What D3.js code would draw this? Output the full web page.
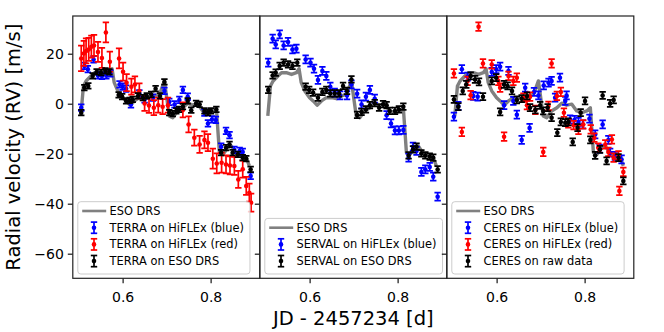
<!DOCTYPE html>
<html>
<head>
<meta charset="utf-8">
<script src="https://cdn.jsdelivr.net/npm/d3@7"></script>
<style>
  body { margin: 0; background: #fff; }
  text { font-family: "DejaVu Sans", sans-serif; }
</style>
</head>
<body>
<div id="chart"></div>
<script>
// ticks
var xTicks = [0.6, 0.8];
var yTicks = [20, 0, -20, -40, -60];

// ESO DRS reference curve (same in all panels)
var esoT  = [0.505, 0.511, 0.517, 0.528, 0.536, 0.547, 0.559, 0.570, 0.576, 0.581, 0.589, 0.600, 0.608, 0.617, 0.627, 0.638, 0.650, 0.661, 0.672, 0.684,
             0.695, 0.706, 0.714, 0.725, 0.737, 0.748, 0.759, 0.771, 0.782, 0.794, 0.805, 0.813, 0.820, 0.828, 0.839, 0.847, 0.858, 0.869, 0.881, 0.888];
var esoRV = [-4.9, 7.1, 9.1, 11.1, 12.4, 12.4, 11.7, 12.4, 14.0, 8.4, 5.1, 2.4, 1.1, -0.6, 1.1, 2.4, 2.4, 2.0, 3.1, 3.7,
             9.1, -4.9, -5.6, -2.9, -1.6, 0.2, -0.6, -0.2, -2.9, -3.6, -2.9, -1.6, -19.6, -20.3, -17.6, -16.9, -19.9, -20.7, -21.6, -24.9];

// panel 1: TERRA
var terraBlueT  = [0.506, 0.513, 0.521, 0.534, 0.544, 0.553, 0.563, 0.572, 0.593, 0.600, 0.608, 0.619, 0.638, 0.650, 0.669, 0.695, 0.706, 0.718,
                   0.729, 0.737, 0.748, 0.786, 0.794, 0.803, 0.812, 0.824, 0.835, 0.843, 0.854, 0.866, 0.873, 0.891];
var terraBlueRV = [-1.6, 15.1, 13.8, 17.7, 11.3, 11.1, 11.3, 12.1, 7.7, 6.8, 6.0, -0.3, 4.1, 1.7, 2.4, 5.1, 0.7, -0.3,
                   1.5, 5.5, 2.8, -3.6, -7.9, -6.3, -6.5, -17.2, -10.9, -12.6, -18.5, -18.9, -19.3, -28.9];
var terraBlueErr = 1.3;

var terraRedT  = [0.506, 0.512, 0.517, 0.523, 0.529, 0.535, 0.544, 0.553, 0.562, 0.571, 0.592, 0.601, 0.609, 0.620, 0.628, 0.638, 0.650, 0.660,
                  0.671, 0.681, 0.691, 0.703, 0.737, 0.750, 0.763, 0.775, 0.786, 0.794, 0.805, 0.814, 0.825, 0.835, 0.844, 0.854, 0.863, 0.873,
                  0.881, 0.888, 0.892];
var terraRedRV = [18.1, 20.1, 21.1, 21.7, 22.8, 23.3, 20.7, 18.3, 28.5, 16.8, 18.1, 12.8, 8.4, 6.8, 7.7, 5.1, 0.1, -0.7,
                  -1.6, -0.6, -1.2, -0.6, -2.5, -8.3, -13.6, -16.3, -14.5, -15.6, -22.0, -23.9, -23.6, -24.3, -24.7, -24.9, -30.3, -26.2,
                  -32.9, -35.6, -39.6];
var terraRedErr = [5.1, 5.0, 5.0, 4.6, 4.4, 4.2, 4.0, 4.0, 4.0, 4.0, 4.0, 3.6, 3.4, 3.2, 3.2, 3.0, 3.0, 3.0,
                   3.0, 3.0, 3.0, 3.0, 3.0, 3.2, 3.2, 3.4, 3.4, 3.4, 4.0, 4.0, 4.0, 3.6, 3.6, 3.6, 3.4, 3.4,
                   3.6, 3.6, 3.6];

var terraBlackT  = [0.506, 0.513, 0.522, 0.532, 0.541, 0.551, 0.561, 0.570, 0.591, 0.599, 0.608, 0.616, 0.623, 0.635, 0.646, 0.655, 0.665, 0.675,
                    0.685, 0.695, 0.706, 0.714, 0.722, 0.728, 0.737, 0.748, 0.756, 0.767, 0.775, 0.786, 0.794, 0.801, 0.813, 0.824, 0.835, 0.843,
                    0.850, 0.862, 0.873, 0.881, 0.891];
var terraBlackRV = [-3.6, 6.4, 7.1, 11.1, 12.7, 12.4, 13.1, 12.7, 3.5, 2.8, 1.1, 1.3, 1.7, 3.1, 2.4, 3.1, 3.7, 6.0,
                    3.1, 8.7, -3.6, -4.0, -2.9, -2.3, -1.2, 1.1, -2.6, 0.1, -0.3, -2.9, -3.6, -2.9, -2.3, -19.6, -17.6, -16.3,
                    -19.6, -20.3, -21.6, -22.0, -26.3];
var terraBlackErr = 1.1;

// panel 2: SERVAL
var servalBlueT  = [0.506, 0.516, 0.523, 0.532, 0.541, 0.551, 0.561, 0.570, 0.591, 0.602, 0.610, 0.619, 0.629, 0.638, 0.647, 0.657, 0.669, 0.685,
                    0.695, 0.708, 0.718, 0.728, 0.737, 0.748, 0.775, 0.785, 0.794, 0.803, 0.813, 0.825, 0.835, 0.843, 0.854, 0.863, 0.873, 0.881,
                    0.891];
var servalBlueRV = [16.4, 26.0, 23.7, 27.7, 23.3, 24.7, 21.7, 22.0, 17.7, 16.4, 14.0, 9.5, 13.1, 11.1, 6.8, 4.4, 3.3, 3.3,
                    7.7, 4.0, -0.3, 2.8, 5.5, 2.0, -4.6, -7.9, -10.7, -10.7, -10.5, -21.6, -17.2, -18.9, -27.3, -26.3, -25.3, -29.2,
                    -37.2];
var servalBlueErr = 1.6;

var servalBlackT  = [0.506, 0.516, 0.523, 0.532, 0.541, 0.551, 0.561, 0.572, 0.591, 0.599, 0.608, 0.619, 0.629, 0.638, 0.647, 0.657, 0.667, 0.676,
                     0.685, 0.695, 0.708, 0.718, 0.728, 0.737, 0.748, 0.758, 0.767, 0.775, 0.782, 0.794, 0.803, 0.813, 0.825, 0.835, 0.843, 0.854,
                     0.863, 0.873, 0.881, 0.891];
var servalBlackRV = [5.5, 11.3, 12.4, 15.1, 16.4, 15.7, 15.1, 16.4, 6.8, 5.5, 4.4, 2.4, 4.7, 5.5, 4.1, 4.1, 4.1, 7.1,
                     5.1, 9.7, -4.5, -3.3, -2.3, -0.6, 0.2, -1.6, -0.2, -0.6, -2.9, -2.9, -2.3, -1.2, -20.7, -18.3, -17.2, -19.9,
                     -20.7, -21.2, -21.6, -26.3];
var servalBlackErr = 1.3;

// panel 3: CERES
var ceresBlueT  = [0.503, 0.513, 0.521, 0.534, 0.547, 0.557, 0.589, 0.599, 0.608, 0.617, 0.627, 0.638, 0.646, 0.657, 0.665, 0.675, 0.685, 0.695,
                   0.707, 0.718, 0.725, 0.733, 0.744, 0.756, 0.759, 0.767, 0.777, 0.786, 0.796, 0.811, 0.824, 0.834, 0.841, 0.854, 0.858, 0.869,
                   0.884];
var ceresBlueRV = [-5.2, -0.9, 13.8, 10.8, 3.1, 2.8, 12.7, 13.8, 14.8, -0.6, 13.1, 1.1, -4.4, -14.5, 6.4, -9.7, 4.7, 3.3,
                   7.3, 8.4, 9.1, 2.4, 10.4, 1.1, 3.3, -6.3, -6.5, -7.3, -8.3, -6.0, -12.3, -18.0, -8.3, -14.5, -19.6, -20.9,
                   -22.3];
var ceresBlueErr = 1.6;

var ceresRedT  = [0.503, 0.521, 0.534, 0.541, 0.559, 0.569, 0.589, 0.604, 0.608, 0.617, 0.627, 0.638, 0.646, 0.661, 0.669, 0.676, 0.688, 0.706,
                  0.718, 0.725, 0.737, 0.746, 0.753, 0.763, 0.775, 0.786, 0.797, 0.814, 0.822, 0.831, 0.847, 0.854, 0.862, 0.866, 0.877, 0.879,
                  0.888];
var ceresRedRV = [12.1, -11.3, 9.1, 3.4, 30.8, 16.1, 15.7, 9.1, 6.4, -13.2, 11.1, 9.1, 10.4, 2.4, -0.6, 2.8, -2.5, -19.3,
                  -0.9, 16.1, 3.1, 4.7, -3.6, -7.9, -8.6, -10.5, -8.3, -10.3, -13.6, -17.6, -16.3, -19.3, -14.3, -21.6, -20.7, -34.9,
                  -27.3];
var ceresRedErr = 1.7;

var ceresBlackT  = [0.503, 0.513, 0.523, 0.531, 0.541, 0.551, 0.560, 0.569, 0.589, 0.599, 0.608, 0.617, 0.625, 0.635, 0.646, 0.657, 0.669, 0.676,
                    0.688, 0.699, 0.706, 0.716, 0.725, 0.738, 0.746, 0.756, 0.763, 0.773, 0.784, 0.791, 0.801, 0.813, 0.824, 0.835, 0.841, 0.850,
                    0.858, 0.866, 0.877, 0.888];
var ceresBlackRV = [1.7, -1.2, 5.1, 7.7, 11.1, 9.7, 8.7, 2.8, 9.1, 10.4, -3.3, 7.7, 7.1, 5.1, 1.5, 2.0, 3.1, -1.6,
                    -2.5, -0.7, -2.9, -1.6, -5.6, -11.6, -7.3, -7.6, -7.3, -15.3, -9.6, -3.6, 1.1, -14.5, -20.7, -18.3, 3.3, -22.9,
                    0.1, 1.5, -21.6, -30.9];
var ceresBlackErr = 1.4;

// ---------------------------------------------------------------
var W = 664, H = 332,
    mLeft = 72.8, mTop = 16, pw = 187, ph = 262.3;

var x = d3.scaleLinear().domain([0.4868, 0.4868 + pw / 440]).range([0, pw]);
var y = d3.scaleLinear().domain([-69.85, 35.08]).range([ph, 0]);

function pts(t, rv, err) {
    return t.map(function (d, i) {
        return { t: d, rv: rv[i], e: Array.isArray(err) ? err[i] : err };
    });
}

var panels = [
    { series: [
        { label: "TERRA on HiFLEx (blue)", color: "#0000ff", data: pts(terraBlueT, terraBlueRV, terraBlueErr) },
        { label: "TERRA on HiFLEx (red)",  color: "#ff0000", data: pts(terraRedT, terraRedRV, terraRedErr) },
        { label: "TERRA on ESO DRS",       color: "#000000", data: pts(terraBlackT, terraBlackRV, terraBlackErr) }] },
    { series: [
        { label: "SERVAL on HiFLEx (blue)", color: "#0000ff", data: pts(servalBlueT, servalBlueRV, servalBlueErr) },
        { label: "SERVAL on ESO DRS",       color: "#000000", data: pts(servalBlackT, servalBlackRV, servalBlackErr) }] },
    { series: [
        { label: "CERES on HiFLEx (blue)", color: "#0000ff", data: pts(ceresBlueT, ceresBlueRV, ceresBlueErr) },
        { label: "CERES on HiFLEx (red)",  color: "#ff0000", data: pts(ceresRedT, ceresRedRV, ceresRedErr) },
        { label: "CERES on raw data",      color: "#000000", data: pts(ceresBlackT, ceresBlackRV, ceresBlackErr) }] }
];

var eso = pts(esoT, esoRV, 0);

var svg = d3.select("#chart").append("svg")
    .attr("width", W)
    .attr("height", H);

svg.append("defs").append("clipPath")
    .attr("id", "clip")
    .append("rect")
    .attr("width", pw)
    .attr("height", ph);

var line = d3.line()
    .x(function (d) { return x(d.t); })
    .y(function (d) { return y(d.rv); });

var cap = 3.2, ew = 1.7, mr = 2.3;

function errMark(sel, color) {
    sel.append("line")
        .attr("x1", 0).attr("x2", 0)
        .attr("y1", function (d) { return y(d.rv + d.e) - y(d.rv); })
        .attr("y2", function (d) { return y(d.rv - d.e) - y(d.rv); })
        .attr("stroke", color).attr("stroke-width", ew);
    [1, -1].forEach(function (s) {
        sel.append("line")
            .attr("x1", -cap).attr("x2", cap)
            .attr("y1", function (d) { return y(d.rv + s * d.e) - y(d.rv); })
            .attr("y2", function (d) { return y(d.rv + s * d.e) - y(d.rv); })
            .attr("stroke", color).attr("stroke-width", ew);
    });
    sel.append("circle")
        .attr("r", mr)
        .attr("fill", color);
}

panels.forEach(function (p, i) {
    var g = svg.append("g")
        .attr("transform", "translate(" + (mLeft + i * pw) + "," + mTop + ")");

    var plot = g.append("g").attr("clip-path", "url(#clip)");

    plot.append("path")
        .datum(eso)
        .attr("d", line)
        .attr("fill", "none")
        .attr("stroke", "#808080")
        .attr("stroke-width", 3.4)
        .attr("stroke-linejoin", "round");

    p.series.forEach(function (s) {
        plot.append("g").selectAll("g")
            .data(s.data)
            .enter().append("g")
            .attr("transform", function (d) { return "translate(" + x(d.t) + "," + y(d.rv) + ")"; })
            .call(errMark, s.color);
    });

    // axes
    g.append("g")
        .attr("transform", "translate(0," + ph + ")")
        .call(d3.axisBottom(x).tickValues(xTicks).tickSize(5).tickPadding(8.5).tickFormat(d3.format(".1f")))
        .call(function (a) {
            a.select(".domain").remove();
            a.selectAll("text").attr("font-size", 14).attr("font-family", "DejaVu Sans").attr("fill", "#000");
            a.selectAll("line").attr("stroke", "#000").attr("stroke-width", 1.1);
        });

    g.append("g")
        .call(d3.axisLeft(y).tickValues(yTicks).tickSize(5).tickPadding(4)
            .tickFormat(i === 0 ? d3.format("") : function () { return ""; }))
        .call(function (a) {
            a.select(".domain").remove();
            a.selectAll("text").attr("font-size", 14).attr("font-family", "DejaVu Sans").attr("fill", "#000");
            a.selectAll("line").attr("stroke", "#000").attr("stroke-width", 1.1);
        });

    g.append("rect")
        .attr("width", pw)
        .attr("height", ph)
        .attr("fill", "none")
        .attr("stroke", "#222")
        .attr("stroke-width", 1.2);

    // legend
    var rows = [{ label: "ESO DRS", line: true }].concat(p.series),
        rowH = 16.7,
        boxH = rows.length * rowH + 5.5,
        lg = g.append("g").attr("transform", "translate(5," + (ph - 4.3 - boxH) + ")");

    var box = lg.append("rect")
        .attr("height", boxH)
        .attr("rx", 3)
        .attr("fill", "#fff")
        .attr("fill-opacity", 0.8)
        .attr("stroke", "#cccccc")
        .attr("stroke-width", 1);

    var maxW = 0;
    rows.forEach(function (r, j) {
        var cy = 9.3 + j * rowH;
        if (r.line) {
            lg.append("line")
                .attr("x1", 4.4).attr("x2", 28.4)
                .attr("y1", cy).attr("y2", cy)
                .attr("stroke", "#808080")
                .attr("stroke-width", 2.6);
        } else {
            lg.append("g")
                .attr("transform", "translate(16.2," + cy + ")")
                .call(function (m) {
                    m.append("line").attr("y1", -5.6).attr("y2", 5.6)
                        .attr("stroke", r.color).attr("stroke-width", ew);
                    [-5.6, 5.6].forEach(function (yy) {
                        m.append("line").attr("x1", -cap).attr("x2", cap).attr("y1", yy).attr("y2", yy)
                            .attr("stroke", r.color).attr("stroke-width", ew);
                    });
                    m.append("circle").attr("r", mr).attr("fill", r.color);
                });
        }
        var t = lg.append("text")
            .attr("x", 31.7)
            .attr("y", cy)
            .attr("dy", "0.36em")
            .attr("font-size", 11.4)
            .attr("fill", "#000")
            .text(r.label);
        maxW = Math.max(maxW, t.node().getComputedTextLength());
    });
    box.attr("width", 31.7 + maxW + 6);
});

// axis labels
svg.append("text")
    .attr("x", mLeft + 1.5 * pw)
    .attr("y", 325)
    .attr("text-anchor", "middle")
    .attr("font-size", 19.5)
    .attr("fill", "#000")
    .text("JD - 2457234 [d]");

svg.append("text")
    .attr("transform", "translate(20," + (mTop + ph / 2) + ") rotate(-90)")
    .attr("text-anchor", "middle")
    .attr("font-size", 19.5)
    .attr("fill", "#000")
    .text("Radial velocity (RV) [m/s]");
</script>
</body>
</html>
